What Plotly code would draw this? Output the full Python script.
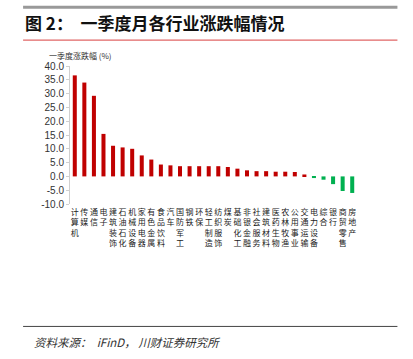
import plotly.graph_objects as go

categories = ["计算机", "传媒", "通信", "电子", "建筑装饰", "石油石化", "机械设备", "家用电器",
              "有色金属", "食品饮料", "汽车", "国防军工", "钢铁", "环保", "轻工制造", "纺织服饰",
              "煤炭", "基础化工", "非银金融", "社会服务", "建筑材料", "医药生物", "农林牧渔",
              "公用事业", "交通运输", "电力设备", "综合", "银行", "商贸零售", "房地产"]
values = [36.6, 34.0, 29.2, 15.4, 11.1, 10.5, 10.0, 7.6, 6.1, 4.3, 4.0, 3.7, 3.7, 3.7, 3.7,
          3.7, 3.4, 2.8, 2.2, 1.9, 1.9, 1.7, 1.7, 1.6, 0.7, -0.6, -1.2, -2.8, -5.3, -6.0]
y_ticks = [-10, -5, 0, 5, 10, 15, 20, 25, 30, 35, 40]

W, H = 413, 359
L, R, T, B = 70, 55.5, 66, 154.7
pw, ph = W - L - R, H - T - B

def px(x):
    return (x - L) / pw

def py(y):
    return (H - B - y) / ph

labels = ["<br>".join(list(c)) for c in categories]
colors = ["#C00000" if v >= 0 else "#00B050" for v in values]

fig = go.Figure()
fig.add_trace(go.Bar(x=list(range(len(categories))), y=values, marker_color=colors,
                     marker_line_width=0, width=0.42, showlegend=False, hoverinfo="skip"))

fig.update_layout(
    width=W, height=H,
    margin=dict(l=L, r=R, t=T, b=B, autoexpand=False),
    paper_bgcolor="white", plot_bgcolor="white",
    font=dict(family="Noto Sans CJK SC", color="#333333"),
    title=dict(text="<b>图 2：  一季度月各行业涨跌幅情况</b>", x=25 / W, xanchor="left",
               y=1 - 24 / H, yanchor="middle", xref="container", yref="container",
               font=dict(size=17, color="#111111", family="Noto Sans CJK SC")),
    xaxis=dict(type="linear", range=[-0.5, len(categories) - 0.5],
               tickmode="array", tickvals=list(range(len(categories))), ticktext=labels,
               tickangle=0,
               ticks="", showline=False, showgrid=False, zeroline=False,
               tickfont=dict(size=8, color="#222222", family="Noto Sans CJK SC"),
               ticklabelstandoff=2),
    xaxis2=dict(type="linear", range=[-0.5, len(categories) - 0.5], overlaying="x",
                anchor="free", position=(0 - y_ticks[0]) / (y_ticks[-1] - y_ticks[0]),
                tick0=-0.5, dtick=1, ticks="outside", ticklen=4, tickcolor="#BFBFBF",
                showticklabels=False, showline=True, linecolor="#BFBFBF", linewidth=1,
                showgrid=False, zeroline=False),
    yaxis=dict(range=[y_ticks[0], y_ticks[-1]], tickvals=y_ticks,
               ticktext=[f"{v:.1f}" for v in y_ticks],
               showline=True, linecolor="#D0D0D0", linewidth=1,
               ticks="outside", ticklen=3, tickcolor="#D0D0D0",
               showgrid=False, zeroline=False,
               tickfont=dict(size=10, color="#333333", family="Liberation Sans")),
    bargap=0.6,
    hovermode=False,
)

line_x0, line_x1 = px(23), px(398)
fig.add_shape(type="line", xref="paper", yref="paper", x0=line_x0, x1=line_x1,
              y0=py(7), y1=py(7), line=dict(color="#999999", width=3))
fig.add_shape(type="line", xref="paper", yref="paper", x0=line_x0, x1=line_x1,
              y0=py(40), y1=py(40), line=dict(color="#E06666", width=1.2))
fig.add_shape(type="line", xref="paper", yref="paper", x0=line_x0, x1=line_x1,
              y0=py(327), y1=py(327), line=dict(color="#444444", width=1))

fig.add_annotation(text="一季度涨跌幅 (%)", xref="paper", yref="paper", x=px(47), y=py(55),
                   xanchor="left", yanchor="middle", showarrow=False,
                   font=dict(size=8, color="#333333", family="Noto Sans CJK SC"))
fig.add_annotation(text="<i>资料来源：  iFinD， 川财证券研究所</i>", xref="paper", yref="paper",
                   x=px(32), y=py(343), xanchor="left", yanchor="middle", showarrow=False,
                   font=dict(size=11.5, color="#333333", family="Noto Sans CJK SC"))

fig.write_html("out.html", config={"displayModeBar": False},
               post_script="document.body.style.margin='0';")
